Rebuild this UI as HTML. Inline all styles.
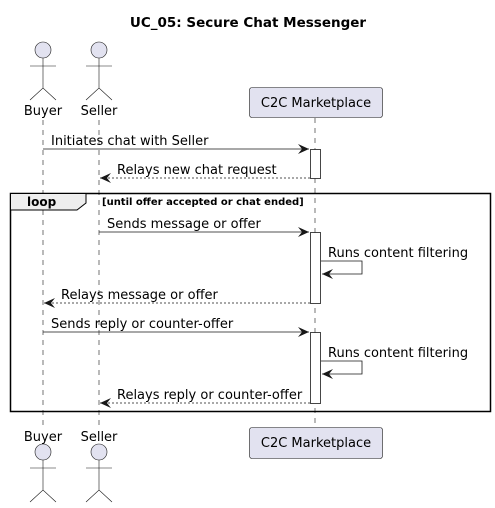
<!DOCTYPE html>
<html><head><meta charset="utf-8"><style>body{margin:0;background:#fff}svg{display:block}</style></head><body>
<svg width="495" height="508" viewBox="0 0 495 508" xmlns="http://www.w3.org/2000/svg" font-family="'DejaVu Sans','Liberation Sans',sans-serif">
<defs>
<marker id="a" markerWidth="12" markerHeight="10" refX="11" refY="5" orient="auto" markerUnits="userSpaceOnUse"><path d="M0,0 L11,5 L0,10 L4,5 Z" fill="#181818"/></marker>
</defs>
<text x="248" y="27" text-anchor="middle" font-size="13.5" font-weight="bold">UC_05: Secure Chat Messenger</text>
<g stroke="#181818" stroke-width="0.6" stroke-dasharray="5,5">
<line x1="43" y1="120" x2="43" y2="425"/><line x1="99" y1="120" x2="99" y2="425"/><line x1="315" y1="118" x2="315" y2="427"/>
</g>
<g fill="#E2E2F0" stroke="#181818" stroke-width="0.6">
<circle cx="43" cy="50" r="8"/><circle cx="99" cy="50" r="8"/>
<circle cx="43" cy="452" r="8"/><circle cx="99" cy="452" r="8"/>
<rect x="249.5" y="87.5" width="133" height="30" rx="2.5"/>
<rect x="249.5" y="427.5" width="133" height="31" rx="2.5"/>
</g>
<g stroke="#181818" stroke-width="0.6" fill="none">
<path d="M43,58 V88 M30,66 H56 M30,100 L43,88 L56,100"/>
<path d="M99,58 V88 M86,66 H112 M86,100 L99,88 L112,100"/>
<path d="M43,460 V490 M30,468 H56 M30,502 L43,490 L56,502"/>
<path d="M99,460 V490 M86,468 H112 M86,502 L99,490 L112,502"/>
</g>
<g font-size="13" fill="#000">
<text x="43" y="115" text-anchor="middle">Buyer</text><text x="99" y="115" text-anchor="middle">Seller</text>
<text x="316" y="107" text-anchor="middle">C2C Marketplace</text>
<text x="43" y="441" text-anchor="middle">Buyer</text><text x="99" y="441" text-anchor="middle">Seller</text>
<text x="316" y="447" text-anchor="middle">C2C Marketplace</text>
</g>
<rect x="10.5" y="193.5" width="480" height="218" fill="none" stroke="#000" stroke-width="1.5"/>
<path d="M10.5,193.5 H86 V203 L77,210 H10.5 Z" fill="#EEEEEE" stroke="#000" stroke-width="1"/>
<text x="27" y="206" font-size="12" font-weight="bold">loop</text>
<text x="102" y="205" font-size="10" font-weight="bold">[until offer accepted or chat ended]</text>
<g fill="#fff" stroke="#181818" stroke-width="0.8">
<rect x="310.5" y="149.5" width="10" height="29"/>
<rect x="310.5" y="232.5" width="10" height="71"/>
<rect x="310.5" y="332.5" width="10" height="71"/>
</g>
<g stroke="#181818" stroke-width="0.8" fill="none">
<line x1="43" y1="149" x2="309" y2="149" marker-end="url(#a)"/>
<line x1="310" y1="178" x2="100" y2="178" stroke-dasharray="2,2" marker-end="url(#a)"/>
<line x1="99" y1="232" x2="309" y2="232" marker-end="url(#a)"/>
<path d="M321,261 H362 V274 H322" marker-end="url(#a)"/>
<line x1="310" y1="303" x2="44" y2="303" stroke-dasharray="2,2" marker-end="url(#a)"/>
<line x1="43" y1="332" x2="309" y2="332" marker-end="url(#a)"/>
<path d="M321,361 H362 V374 H322" marker-end="url(#a)"/>
<line x1="310" y1="403" x2="100" y2="403" stroke-dasharray="2,2" marker-end="url(#a)"/>
</g>
<g font-size="13" fill="#000">
<text x="51" y="145">Initiates chat with Seller</text>
<text x="117" y="174">Relays new chat request</text>
<text x="107" y="228">Sends message or offer</text>
<text x="328" y="257">Runs content filtering</text>
<text x="61" y="299">Relays message or offer</text>
<text x="51" y="328">Sends reply or counter-offer</text>
<text x="328" y="357">Runs content filtering</text>
<text x="117" y="399">Relays reply or counter-offer</text>
</g>
</svg>
</body></html>
